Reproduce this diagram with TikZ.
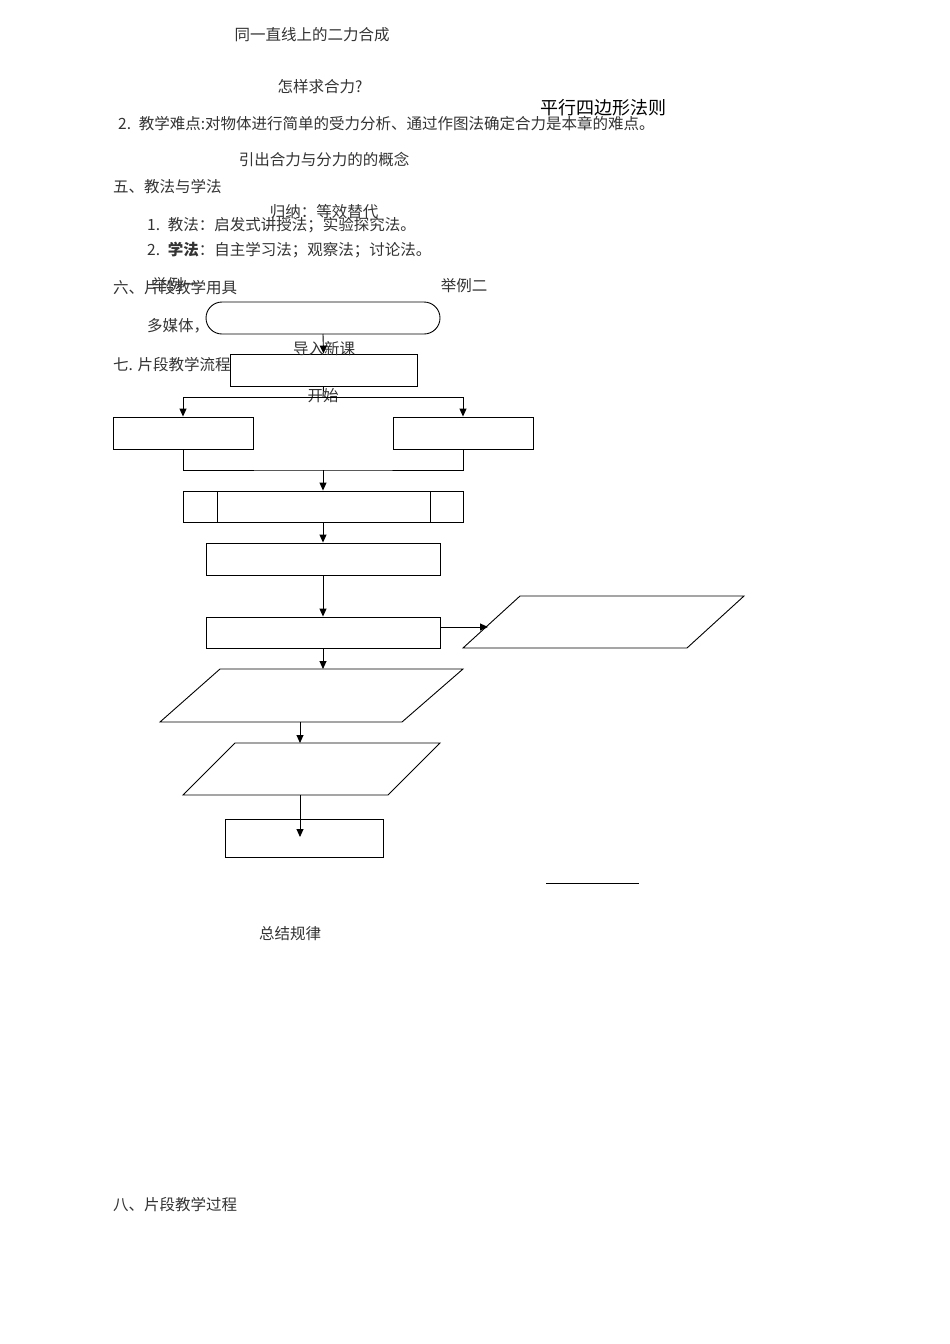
\documentclass[tikz,border=0pt]{standalone}
\usepackage{fontspec}
\setmainfont{Noto Sans CJK SC}
\usetikzlibrary{arrows.meta}
\begin{document}
\begin{tikzpicture}[x=1pt,y=-1pt,
  box/.style={draw,line width=0.9pt},
  arr/.style={-{Triangle[length=8pt,width=7pt]},line width=0.9pt},
  ln/.style={line width=0.9pt},
  t/.style={font=\fontsize{15.5}{17}\selectfont,text=black!80,inner sep=0pt},
  tb/.style={t,anchor=west}]
\useasboundingbox[fill=white] (0,0) rectangle (950,1344);
% texts
\node[t] (a1) at (312,35) {同一直线上的二力合成};
\node[t] (a2) at (320,87) {怎样求合力?};
\node[t,font=\fontsize{18}{20}\selectfont,text=black] (a3) at (603,108) {平行四边形法则};
\node[tb] (a4) at (118,124) {2.\enspace 教学难点:对物体进行简单的受力分析、通过作图法确定合力是本章的难点。};
\node[t] (a5) at (324,160) {引出合力与分力的的概念};
\node[tb] (a6) at (113,187) {五、教法与学法};
\node[t] (a7) at (324,212) {归纳：等效替代};
\node[tb] (a8) at (147,225) {1.\enspace 教法：启发式讲授法；实验探究法。};
\node[tb] (a9) at (147,250) {2.\enspace \textbf{学法}：自主学习法；观察法；讨论法。};
\node[tb] (a10) at (113,288) {六、片段教学用具};
\node[t] (a11) at (175,285) {举例一};
\node[t] (a12) at (464,286) {举例二};
\node[tb] (a13) at (147,326) {多媒体，};
\node[tb] (a14) at (113,365) {七. 片段教学流程};
% shapes
\draw[box,fill=white,rounded corners=16pt] (206,302) rectangle (440,334);
\node[box,fill=white,minimum width=187pt,minimum height=32pt] (b1) at (323.5,370) {};
\node[t] (a15) at (324,349) {导入新课};
\node[t] (a16) at (323,396) {开始};
\coordinate (e) at (323,334);
\draw[arr] (e) -- (b1.north);
\node[box,minimum width=140pt,minimum height=32pt] (bl) at (183,433) {};
\node[box,minimum width=140pt,minimum height=32pt] (br) at (463,433) {};
\draw[ln] (b1.south) -- (323,397);
\draw[arr] (323,397) -| (bl.north);
\draw[arr] (323,397) -| (br.north);
\node[box,minimum width=280pt,minimum height=31pt] (p) at (323,506.5) {};
\draw[ln] (217,491) -- (217,522) (430,491) -- (430,522);
\draw[ln] (bl.south) |- (323,470) -| (br.south);
\draw[arr] (323,470) -- (p.north);
\node[box,minimum width=234pt,minimum height=32pt] (c1) at (323,559) {};
\draw[arr] (p.south) -- (c1.north);
\node[box,minimum width=234pt,minimum height=31pt] (c2) at (323,632.5) {};
\draw[arr] (c1.south) -- (c2.north);
\draw[box] (463,648) -- (520,596) -- (744,596) -- (687,648) -- cycle;
\coordinate (pr) at (488,627);
\draw[arr] (440,627) -- (pr);
\draw[box] (160,722) -- (220,669) -- (463,669) -- (402,722) -- cycle;
\coordinate (q1) at (323,669);
\draw[arr] (c2.south) -- (q1);
\draw[box] (183,795) -- (235,743) -- (440,743) -- (388,795) -- cycle;
\coordinate (q2a) at (300,722);
\coordinate (q2b) at (300,743);
\draw[arr] (q2a) -- (q2b);
\node[box,minimum width=158pt,minimum height=38pt] (d) at (304,838) {};
\coordinate (q3a) at (300,795);
\coordinate (q3b) at (300,837);
\draw[arr] (q3a) -- (q3b);
\draw[ln] (546,883) -- (639,883);
\node[t] (a17) at (290,934) {总结规律};
\node[tb] (a18) at (113,1205) {八、片段教学过程};
\end{tikzpicture}
\end{document}
